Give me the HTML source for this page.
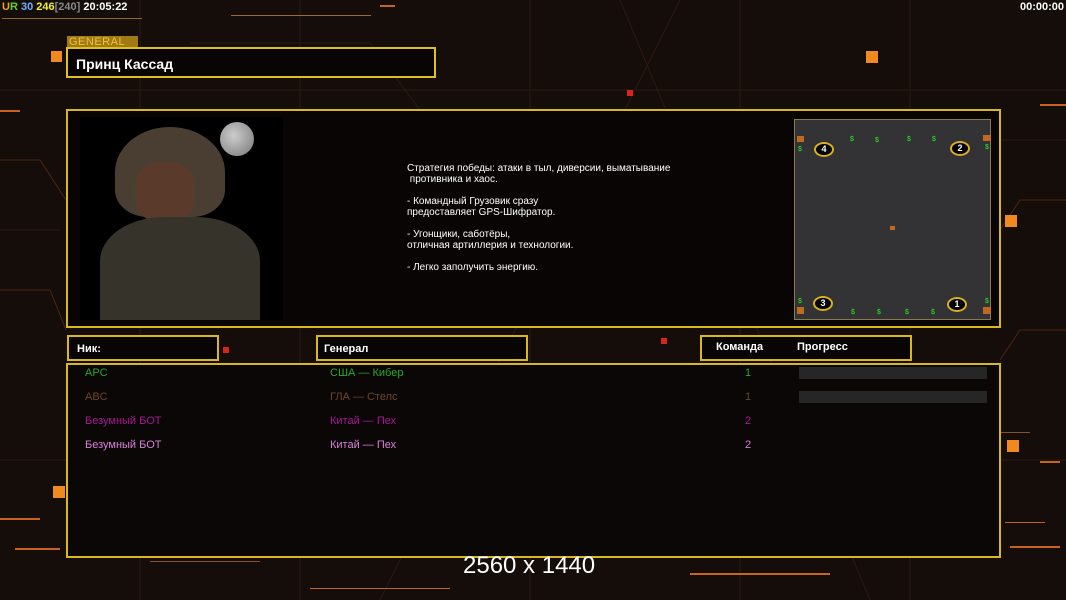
<!DOCTYPE html>
<html><head><meta charset="utf-8"><style>
*{margin:0;padding:0;box-sizing:border-box}
body{width:1066px;height:600px;overflow:hidden;background:#150d0a;font-family:"Liberation Sans",sans-serif;position:relative}
.a{position:absolute}
.box{position:absolute;border:2px solid #d8b81a;background:#080504}
.t{position:absolute;font-size:11px;white-space:nowrap}
.l{position:absolute;background:#c8631c;height:2px}
.sq{position:absolute;background:#f08a1e}
.rs{position:absolute;background:#d8261a}
</style></head><body>
<svg class="a" style="left:0;top:0" width="1066" height="600">
<g stroke="#2a1a12" stroke-width="1" fill="none">
<line x1="0" y1="90" x2="1066" y2="90"/><line x1="0" y1="460" x2="1066" y2="460"/>
<line x1="140" y1="0" x2="140" y2="600"/><line x1="300" y1="0" x2="300" y2="600"/>
<line x1="530" y1="0" x2="530" y2="600"/><line x1="740" y1="0" x2="740" y2="600"/>
<line x1="910" y1="0" x2="910" y2="600"/>
<line x1="380" y1="600" x2="680" y2="0"/><line x1="620" y1="0" x2="870" y2="600"/>
<line x1="190" y1="43" x2="370" y2="43"/><line x1="370" y1="43" x2="420" y2="110"/>
<line x1="0" y1="230" x2="60" y2="230"/><line x1="1000" y1="140" x2="1066" y2="140"/>
</g>
<g stroke="#4a2614" fill="none">
<polyline points="0,160 40,160 66,200"/><polyline points="0,290 50,290 66,330"/>
<polyline points="1066,200 1020,200 1000,230"/><polyline points="1066,330 1020,330 1000,360"/>
</g>
</svg>
<div class="l" style="left:2px;top:18px;width:140px;background:#8a6a20;height:1px"></div>
<div class="l" style="left:231px;top:15px;width:140px;height:1px;background:#a06830"></div>
<div class="l" style="left:380px;top:5px;width:15px"></div>
<div class="l" style="left:0;top:110px;width:20px"></div>
<div class="l" style="left:1040px;top:104px;width:26px"></div>
<div class="l" style="left:1000px;top:432px;width:30px;height:1px;background:#885030"></div>
<div class="l" style="left:1040px;top:461px;width:20px"></div>
<div class="l" style="left:1005px;top:522px;width:40px;height:1px"></div>
<div class="l" style="left:1010px;top:546px;width:50px"></div>
<div class="l" style="left:0;top:518px;width:40px"></div>
<div class="l" style="left:15px;top:548px;width:45px"></div>
<div class="l" style="left:150px;top:561px;width:110px;height:1px;background:#885030"></div>
<div class="l" style="left:690px;top:573px;width:140px"></div>
<div class="l" style="left:310px;top:588px;width:140px;height:1px"></div>
<div class="sq" style="left:51px;top:51px;width:11px;height:11px"></div>
<div class="sq" style="left:866px;top:51px;width:12px;height:12px"></div>
<div class="sq" style="left:1005px;top:215px;width:12px;height:12px"></div>
<div class="sq" style="left:1007px;top:440px;width:12px;height:12px"></div>
<div class="sq" style="left:53px;top:486px;width:12px;height:12px"></div>
<div class="rs" style="left:627px;top:90px;width:6px;height:6px"></div>
<div class="rs" style="left:223px;top:347px;width:6px;height:6px"></div>
<div class="rs" style="left:661px;top:338px;width:6px;height:6px"></div>
<div class="t" style="left:2px;top:1px;font-weight:bold;font-size:11px"><span style="color:#f0a020">U</span><span style="color:#60d030">R</span> <span style="color:#70b0ff">30</span> <span style="color:#f0f030">246</span><span style="color:#888">[240]</span> <span style="color:#fff">20:05:22</span></div>
<div class="t" style="right:2px;top:1px;font-weight:bold;color:#fff">00:00:00</div>
<div class="a" style="left:67px;top:36px;width:71px;height:12px;background:#a07a14;color:#f0c040;font-size:11px;line-height:12px;padding-left:2px;letter-spacing:0.5px">GENERAL</div>
<div class="box" style="left:66px;top:47px;width:370px;height:31px;border-color:#e0c020"><div class="t" style="left:8px;top:7px;color:#fff;font-weight:bold;font-size:14px">Принц Кассад</div></div>
<div class="box" style="left:66px;top:109px;width:935px;height:219px"></div>
<div class="a" style="left:80px;top:117px;width:203px;height:203px;background:#000;overflow:hidden">
 <div class="a" style="left:140px;top:5px;width:34px;height:34px;border-radius:50%;background:radial-gradient(circle at 40% 40%,#ccc,#777)"></div>
 <div class="a" style="left:35px;top:10px;width:110px;height:90px;border-radius:50% 50% 30% 30%;background:#4a3e32"></div>
 <div class="a" style="left:55px;top:45px;width:60px;height:60px;border-radius:40%;background:#5a3a2a"></div>
 <div class="a" style="left:20px;top:100px;width:160px;height:110px;border-radius:40% 40% 0 0;background:#35332a"></div>
</div>
<div class="a" style="left:407px;top:163px;color:#fff;font-size:10px;line-height:11px;white-space:pre">Стратегия победы: атаки в тыл, диверсии, выматывание
 противника и хаос.

- Командный Грузовик сразу
предоставляет GPS-Шифратор.

- Угонщики, саботёры,
отличная артиллерия и технологии.

- Легко заполучить энергию.</div>
<div class="a" style="left:794px;top:119px;width:197px;height:201px;background:#333234;border:1px solid #8a7a50">
 <div class="a" style="left:19px;top:22px;width:20px;height:15px;border:2px solid #d8b020;border-radius:50%;background:#000;color:#fff;font-size:9px;text-align:center;line-height:11px;font-weight:bold">4</div>
 <div class="a" style="left:155px;top:21px;width:20px;height:15px;border:2px solid #d8b020;border-radius:50%;background:#000;color:#fff;font-size:9px;text-align:center;line-height:11px;font-weight:bold">2</div>
 <div class="a" style="left:18px;top:176px;width:20px;height:15px;border:2px solid #d8b020;border-radius:50%;background:#000;color:#fff;font-size:9px;text-align:center;line-height:11px;font-weight:bold">3</div>
 <div class="a" style="left:152px;top:177px;width:20px;height:15px;border:2px solid #d8b020;border-radius:50%;background:#000;color:#fff;font-size:9px;text-align:center;line-height:11px;font-weight:bold">1</div>
 <div class="a" style="left:0;top:0;color:#2c2;font-size:7px;font-weight:bold;width:197px;height:201px">
  <span class="a" style="left:55px;top:16px">$</span><span class="a" style="left:80px;top:17px">$</span><span class="a" style="left:112px;top:16px">$</span><span class="a" style="left:137px;top:16px">$</span>
  <span class="a" style="left:56px;top:189px">$</span><span class="a" style="left:82px;top:189px">$</span><span class="a" style="left:110px;top:189px">$</span><span class="a" style="left:136px;top:189px">$</span>
  <span class="a" style="left:3px;top:26px">$</span><span class="a" style="left:190px;top:24px">$</span><span class="a" style="left:3px;top:178px">$</span><span class="a" style="left:190px;top:178px">$</span>
 </div>
 <div class="a" style="left:2px;top:16px;width:7px;height:6px;background:#c06a20"></div>
 <div class="a" style="left:188px;top:15px;width:8px;height:6px;background:#c06a20"></div>
 <div class="a" style="left:2px;top:187px;width:7px;height:7px;background:#c06a20"></div>
 <div class="a" style="left:188px;top:187px;width:8px;height:7px;background:#c06a20"></div>
 <div class="a" style="left:95px;top:106px;width:5px;height:4px;background:#c06a20"></div>
</div>
<div class="box" style="left:67px;top:335px;width:152px;height:26px"><div class="t" style="left:8px;top:6px;color:#fff;font-weight:bold">Ник:</div></div>
<div class="box" style="left:316px;top:335px;width:212px;height:26px"><div class="t" style="left:6px;top:6px;color:#fff;font-weight:bold">Генерал</div></div>
<div class="box" style="left:700px;top:335px;width:212px;height:26px"><div class="t" style="left:14px;top:4px;color:#fff;font-weight:bold">Команда</div><div class="t" style="left:95px;top:4px;color:#fff;font-weight:bold">Прогресс</div></div>
<div class="box" style="left:66px;top:363px;width:935px;height:195px;background:#0b0706"></div>
<div class="t" style="left:85px;top:367px;color:#2aa82a">APC</div><div class="t" style="left:330px;top:367px;color:#2aa82a">США — Кибер</div><div class="t" style="left:745px;top:367px;color:#2aa82a">1</div>
<div class="t" style="left:85px;top:391px;color:#6e4528">ABC</div><div class="t" style="left:330px;top:391px;color:#6e4528">ГЛА — Стелс</div><div class="t" style="left:745px;top:391px;color:#6e4528">1</div>
<div class="t" style="left:85px;top:415px;color:#a8189a">Безумный БОТ</div><div class="t" style="left:330px;top:415px;color:#a8189a">Китай — Пех</div><div class="t" style="left:745px;top:415px;color:#a8189a">2</div>
<div class="t" style="left:85px;top:439px;color:#d880d8">Безумный БОТ</div><div class="t" style="left:330px;top:439px;color:#d880d8">Китай — Пех</div><div class="t" style="left:745px;top:439px;color:#d880d8">2</div>
<div class="a" style="left:799px;top:367px;width:188px;height:12px;background:#262626"></div>
<div class="a" style="left:799px;top:391px;width:188px;height:12px;background:#262626"></div>
<div class="t" style="left:463px;top:552px;color:#fff;font-size:24px">2560 x 1440</div>
</body></html>
